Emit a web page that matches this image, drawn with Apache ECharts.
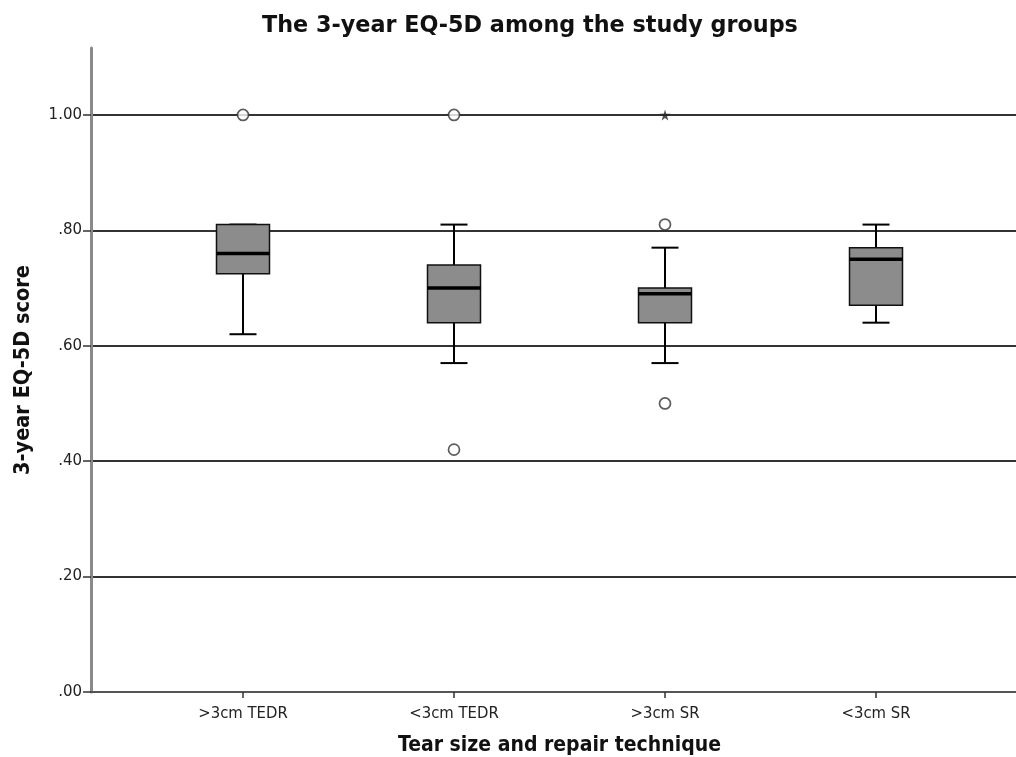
<!DOCTYPE html>
<html>
<head>
<meta charset="utf-8">
<script src="https://cdn.jsdelivr.net/npm/echarts@6/dist/echarts.min.js"></script>
<style>
html,body{margin:0;padding:0;background:#fff;}
#chart{width:1016px;height:757px;}
</style>
</head>
<body>
<div id="chart"></div>
<script>
const categories = ['>3cm TEDR', '<3cm TEDR', '>3cm SR', '<3cm SR'];
const whiskerLow = [0.62, 0.57, 0.57, 0.64];
const q1 = [0.725, 0.64, 0.64, 0.67];
const median = [0.76, 0.70, 0.69, 0.75];
const q3 = [0.81, 0.74, 0.70, 0.77];
const whiskerHigh = [0.81, 0.81, 0.77, 0.81];
const outliers = [[0, 1.00], [1, 1.00], [1, 0.42], [2, 0.81], [2, 0.50]];
const extremes = [[2, 1.00]];

const boxData = categories.map((c, i) => [i, whiskerLow[i], q1[i], median[i], q3[i], whiskerHigh[i]]);

const BOX_HALF = 26.5, CAP_HALF = 13.5;
const CONDENSED = 'DejaVu Sans Condensed, Liberation Sans Narrow, DejaVu Sans';

function renderBox(params, api) {
  const i = api.value(0);
  const pLow = api.coord([i, api.value(1)]);
  const pQ1 = api.coord([i, api.value(2)]);
  const pMed = api.coord([i, api.value(3)]);
  const pQ3 = api.coord([i, api.value(4)]);
  const pHigh = api.coord([i, api.value(5)]);
  const x = pMed[0];
  const lineStyle = {stroke: '#000', lineWidth: 2};
  return {
    type: 'group',
    children: [
      {type: 'line', shape: {x1: x, y1: pQ3[1], x2: x, y2: pHigh[1]}, style: lineStyle},
      {type: 'line', shape: {x1: x, y1: pQ1[1], x2: x, y2: pLow[1]}, style: lineStyle},
      {type: 'line', shape: {x1: x - CAP_HALF, y1: pHigh[1], x2: x + CAP_HALF, y2: pHigh[1]}, style: lineStyle},
      {type: 'line', shape: {x1: x - CAP_HALF, y1: pLow[1], x2: x + CAP_HALF, y2: pLow[1]}, style: lineStyle},
      {type: 'rect', shape: {x: x - BOX_HALF, y: pQ3[1], width: 2 * BOX_HALF, height: pQ1[1] - pQ3[1]},
        style: {fill: '#8c8c8c', stroke: '#111', lineWidth: 1.5}},
      {type: 'line', shape: {x1: x - BOX_HALF, y1: pMed[1], x2: x + BOX_HALF, y2: pMed[1]},
        style: {stroke: '#000', lineWidth: 3.5}}
    ]
  };
}

const chart = echarts.init(document.getElementById('chart'), null, {renderer: 'canvas'});
chart.setOption({
  animation: false,
  backgroundColor: '#fff',
  title: {
    text: 'The 3-year EQ-5D among the study groups',
    left: 257, top: 10,
    textStyle: {fontFamily: 'DejaVu Sans', fontWeight: 'bold', fontSize: 22.3, color: '#111'}
  },
  grid: [
    {left: 91, right: 0, top: 115, bottom: 65, outerBoundsMode: 'none', containLabel: false},
    {left: 137.5, right: 34.5, top: 48, bottom: 65, outerBoundsMode: 'none', containLabel: false}
  ],
  xAxis: [
    {
      gridIndex: 0, type: 'value', min: 0, max: 1,
      axisLine: {show: true, lineStyle: {color: '#555', width: 2}},
      axisTick: {show: false}, axisLabel: {show: false}, splitLine: {show: false}
    },
    {
      gridIndex: 1, type: 'category', data: categories, boundaryGap: true,
      axisLine: {show: false},
      axisTick: {show: true, alignWithLabel: true, length: 6, lineStyle: {color: '#333', width: 1.5}},
      axisLabel: {margin: 13, fontFamily: CONDENSED, fontSize: 16.5, color: '#222'},
      splitLine: {show: false},
      name: 'Tear size and repair technique', nameLocation: 'middle', nameGap: 43,
      nameTextStyle: {fontFamily: CONDENSED, fontWeight: 'bold', fontSize: 21, color: '#111'}
    }
  ],
  yAxis: [
    {
      gridIndex: 0, type: 'value', min: 0, max: 1, interval: 0.2,
      axisLine: {show: false},
      axisTick: {show: true, length: 8, lineStyle: {color: '#333', width: 1.5}},
      axisLabel: {
        margin: 9, fontFamily: 'DejaVu Sans', fontSize: 15, color: '#222',
        formatter: function (v) { const s = v.toFixed(2); return s.startsWith('0') ? s.slice(1) : s; }
      },
      splitLine: {show: true, lineStyle: {color: '#333', width: 1.8}}
    },
    {
      gridIndex: 1, type: 'value', min: 0, max: 1.116, offset: 46.5,
      axisLine: {show: true, lineStyle: {color: '#8a8a8a', width: 3}},
      axisTick: {show: false}, axisLabel: {show: false}, splitLine: {show: false},
      name: '3-year EQ-5D score', nameLocation: 'middle', nameGap: 57,
      nameTextStyle: {fontFamily: CONDENSED, fontWeight: 'bold', fontSize: 21.5, color: '#111'}
    }
  ],
  series: [
    {
      type: 'custom', xAxisIndex: 1, yAxisIndex: 1,
      renderItem: renderBox,
      encode: {x: 0, y: [1, 2, 3, 4, 5]},
      data: boxData, z: 3
    },
    {
      type: 'scatter', xAxisIndex: 1, yAxisIndex: 1,
      symbol: 'circle', symbolSize: 11,
      itemStyle: {color: '#fff', borderColor: '#333', borderWidth: 1.7},
      data: outliers, z: 4
    },
    {
      type: 'scatter', xAxisIndex: 1, yAxisIndex: 1,
      symbol: 'path://M50,0 L61,35 L98,35 L68,57 L79,91 L50,70 L21,91 L32,57 L2,35 L39,35 Z',
      symbolSize: 11,
      itemStyle: {color: '#222'},
      data: extremes, z: 4
    }
  ]
});
</script>
</body>
</html>
